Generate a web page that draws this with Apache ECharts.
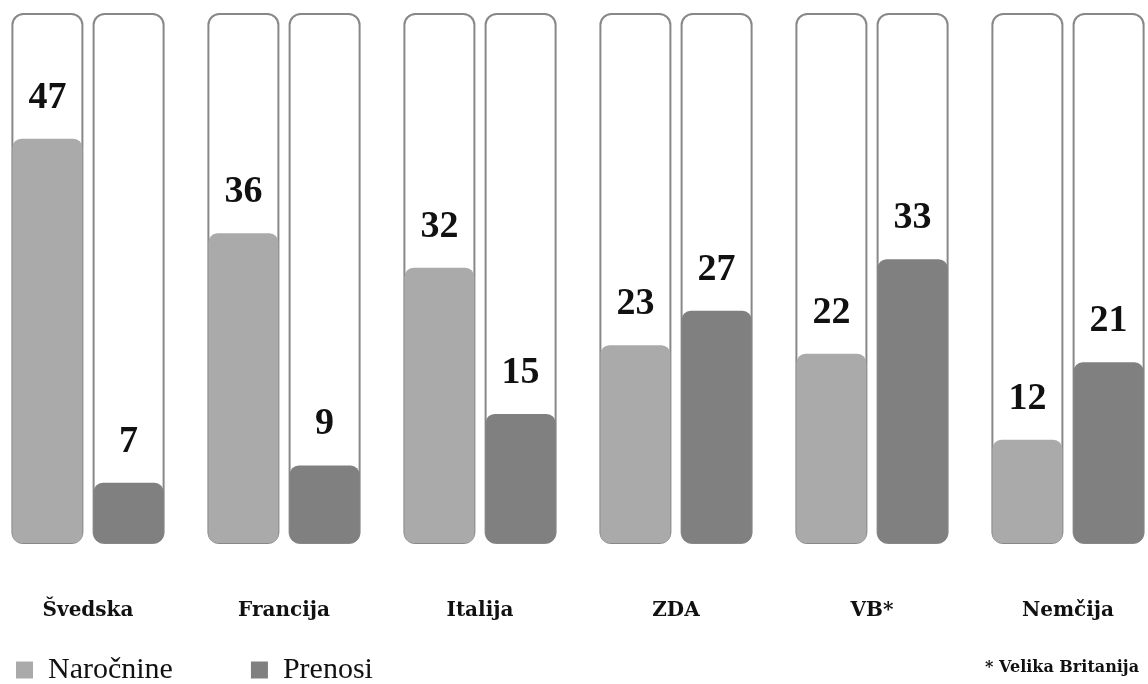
<!DOCTYPE html>
<html>
<head>
<meta charset="utf-8">
<script src="https://cdn.jsdelivr.net/npm/echarts@6/dist/echarts.min.js"></script>
<style>
  html, body { margin: 0; padding: 0; background: #fff; overflow: hidden; }
  #chart { width: 1176px; height: 684px; margin-left: -10px; }
</style>
</head>
<body>
<div id="chart"></div>
<script>
// data
var countries = ["Švedska", "Francija", "Italija", "ZDA", "VB*", "Nemčija"];
var narocnine = [47, 36, 32, 23, 22, 12];
var prenosi = [7, 9, 15, 27, 33, 21];
var seriesNames = ["Naročnine", "Prenosi"];
var footnote = "* Velika Britanija";

var serif = "'Liberation Serif', 'Times New Roman', serif";

function barSeries(name, data, color) {
  return {
    name: name,
    type: "bar",
    data: data,
    barWidth: 70,
    barGap: "16%",
    itemStyle: { color: color, borderRadius: 9 },
    showBackground: true,
    backgroundStyle: {
      color: "#fff",
      borderColor: "#888",
      borderWidth: 2,
      borderRadius: 11
    },
    label: {
      show: true,
      position: "top",
      distance: 22,
      color: "#111",
      fontFamily: serif,
      fontWeight: "bold",
      fontSize: 38
    }
  };
}

var myChart = echarts.init(document.getElementById("chart"));
var option = {
  animation: false,
  backgroundColor: "#fff",
  grid: { left: 0, right: 0, top: 14, bottom: 141 },
  legend: {
    left: 21,
    top: 650,
    icon: "rect",
    itemWidth: 17,
    itemHeight: 17,
    itemGap: 78,
    textStyle: { fontFamily: serif, fontSize: 30, color: "#111", padding: [0, 0, 0, 10] },
    data: seriesNames
  },
  title: {
    text: footnote,
    right: 22,
    bottom: 3,
    textStyle: { fontFamily: "'DejaVu Serif', serif", fontWeight: "bold", fontSize: 16, color: "#111" }
  },
  xAxis: {
    type: "category",
    data: countries,
    axisLine: { show: false },
    axisTick: { show: false },
    axisLabel: {
      margin: 58,
      color: "#111",
      fontFamily: "'DejaVu Serif', serif",
      fontWeight: "bold",
      fontSize: 20
    }
  },
  yAxis: {
    type: "value",
    min: 0,
    max: 61.5,
    show: false,
    splitLine: { show: false }
  },
  series: [
    barSeries(seriesNames[0], narocnine, "#aaaaaa"),
    barSeries(seriesNames[1], prenosi, "#808080")
  ]
};
if (option && typeof option === "object") {
  myChart.setOption(option);
}
</script>
</body>
</html>
